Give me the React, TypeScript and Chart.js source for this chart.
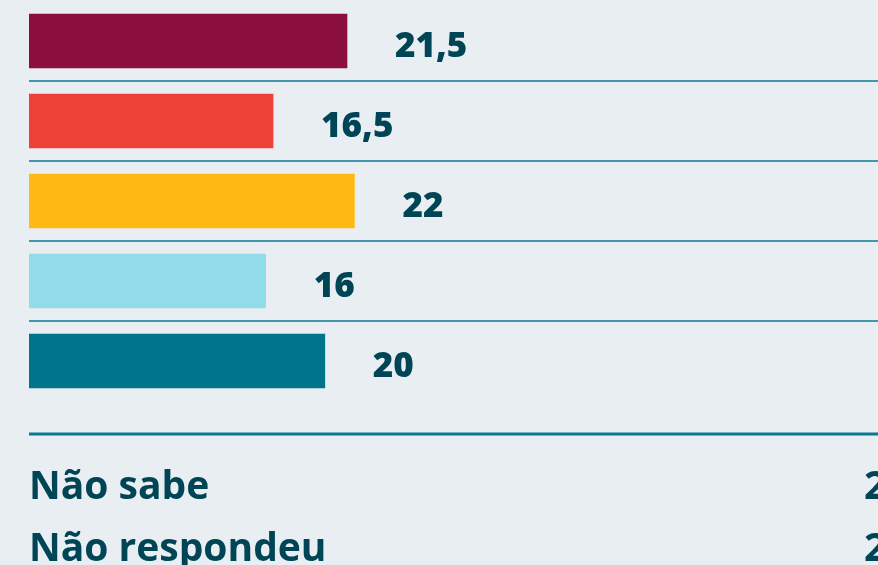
import React, { useEffect, useRef } from "react";
import { Chart, registerables } from "chart.js";

Chart.register(...registerables);

const categories = ["Opção 1", "Opção 2", "Opção 3", "Opção 4", "Opção 5"];
const values = [21.5, 16.5, 22, 16, 20];
const valueLabels = ["21,5", "16,5", "22", "16", "20"];
const barColors = ["#8b0f3e", "#ef4237", "#ffb912", "#92dce9", "#00748b"];
const extraLabels = ["Não sabe", "Não respondeu"];
const extraValues = ["2", "2"];

const BG = "#e9eef3";
const TEXT = "#004555";
const LINE = "#0a7890";

export default function App() {
  const ref = useRef<HTMLCanvasElement | null>(null);

  useEffect(() => {
    document.body.style.margin = "0";
    const canvas = ref.current;
    if (!canvas) return;

    const overlay = {
      id: "overlay",
      afterDatasetsDraw(chart: any) {
        const ctx = chart.ctx;
        const meta = chart.getDatasetMeta(0);
        const area = chart.chartArea;
        const yScale = chart.scales.y;
        ctx.save();
        // separators between bars
        ctx.strokeStyle = LINE;
        ctx.lineWidth = 1.5;
        for (let i = 0; i < categories.length - 1; i++) {
          const y = (yScale.getPixelForValue(i) + yScale.getPixelForValue(i + 1)) / 2;
          ctx.beginPath();
          ctx.moveTo(area.left, y);
          ctx.lineTo(chart.width, y);
          ctx.stroke();
        }
        // value labels
        ctx.fillStyle = TEXT;
        ctx.font = "800 35px 'Open Sans', 'DejaVu Sans', sans-serif";
        ctx.textAlign = "left";
        ctx.textBaseline = "middle";
        meta.data.forEach((el: any, i: number) => {
          ctx.fillText(valueLabels[i], el.x + 48, el.y + 6);
        });
        // thick bottom rule
        const lastY = yScale.getPixelForValue(categories.length - 1);
        const ruleY = lastY + 73;
        ctx.lineWidth = 3;
        ctx.beginPath();
        ctx.moveTo(area.left, ruleY);
        ctx.lineTo(chart.width, ruleY);
        ctx.stroke();
        // extra rows
        ctx.font = "700 39px 'Open Sans', 'DejaVu Sans', sans-serif";
        extraLabels.forEach((lab, i) => {
          const y = ruleY + 54 + i * 62;
          ctx.fillText(lab, area.left, y);
          ctx.fillText(extraValues[i], 864, y);
        });
        ctx.restore();
      },
    };

    const chart = new Chart(canvas, {
      type: "bar",
      data: {
        labels: categories,
        datasets: [
          {
            data: values,
            backgroundColor: barColors,
            barThickness: 54,
            borderWidth: 0,
          },
        ],
      },
      options: {
        indexAxis: "y",
        animation: false,
        responsive: false,
        maintainAspectRatio: false,
        layout: { padding: { left: 29, right: 0, top: 1, bottom: 164 } },
        plugins: { legend: { display: false }, tooltip: { enabled: false } },
        scales: {
          x: { display: false, min: 0, max: 57.4 },
          y: { display: false },
        },
      },
      plugins: [overlay],
    });
    return () => chart.destroy();
  }, []);

  return (
    <div style={{ width: 878, height: 565, background: BG, overflow: "hidden" }}>
      <canvas ref={ref} width={878} height={565} style={{ display: "block" }} />
    </div>
  );
}
